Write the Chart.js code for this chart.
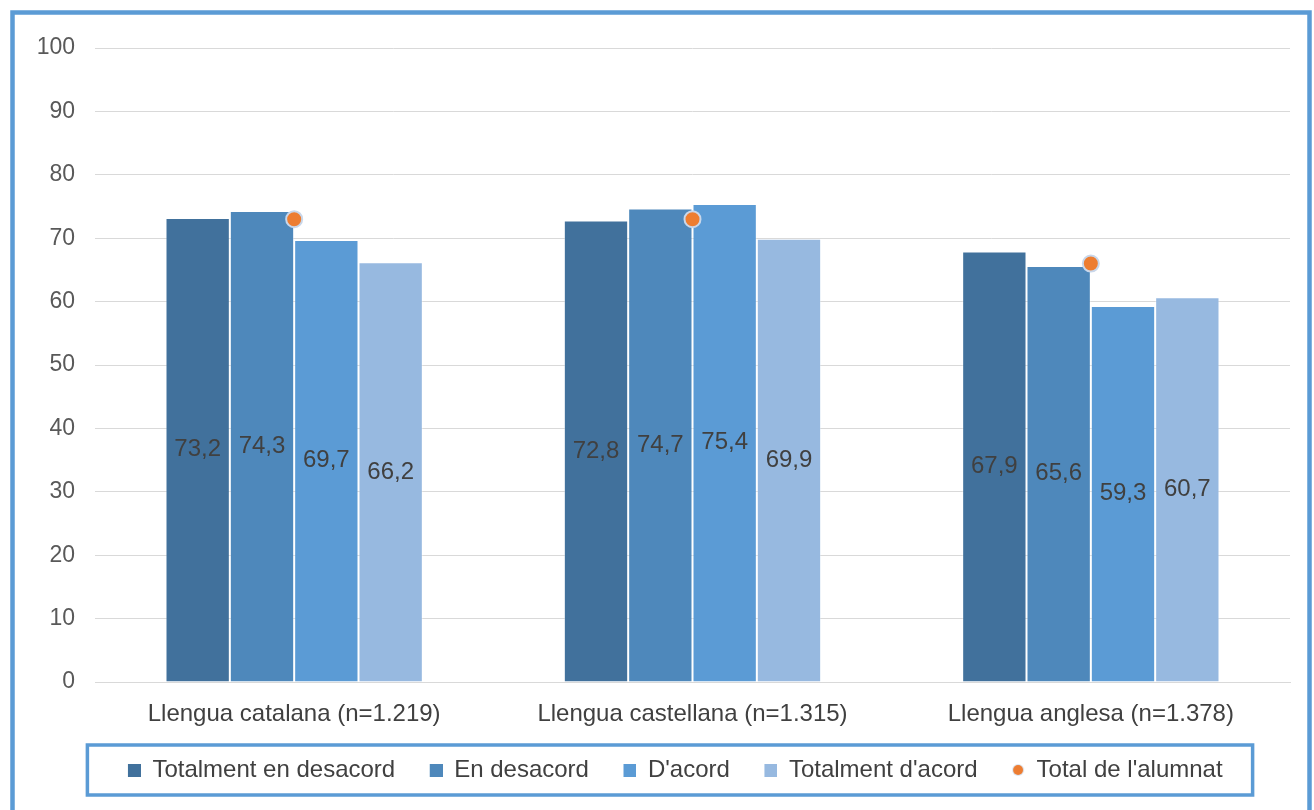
<!DOCTYPE html>
<html>
<head>
<meta charset="utf-8">
<script src="https://cdn.jsdelivr.net/npm/chart.js@4"></script>
<style>
html,body{margin:0;padding:0;background:#fff;}
#wrap{position:relative;width:1314px;height:810px;}
</style>
</head>
<body>
<div id="wrap"><canvas id="c" width="1314" height="810"></canvas></div>
<script>
const categories = ['Llengua catalana (n=1.219)', 'Llengua castellana (n=1.315)', 'Llengua anglesa (n=1.378)'];
const seriesNames = ['Totalment en desacord', 'En desacord', "D'acord", "Totalment d'acord"];
const totalmentDesacord = [73.2, 72.8, 67.9];
const enDesacord = [74.3, 74.7, 65.6];
const dAcord = [69.7, 75.4, 59.3];
const totalmentAcord = [66.2, 69.9, 60.7];
const totalAlumnatName = "Total de l'alumnat";
const totalAlumnat = [73.0, 73.0, 66.0];
const yTicks = [0, 10, 20, 30, 40, 50, 60, 70, 80, 90, 100];

const barColors = ['#41719c', '#4e88bb', '#5b9bd5', '#97b9e0'];
const FONT = "'Liberation Sans', Arial, sans-serif";
const FS = 24;
const TICK_FS = 23;
const LEGEND_PAD = 34;

function makeMarker(kind, color) {
  const cv = document.createElement('canvas');
  cv.width = 14; cv.height = 14;
  const g = cv.getContext('2d');
  if (kind === 'rect') {
    g.fillStyle = color; g.fillRect(1, 1, 13, 13);
  } else {
    g.beginPath(); g.arc(7, 7, 6, 0, Math.PI * 2);
    g.fillStyle = '#dce6f2'; g.fill();
    g.beginPath(); g.arc(7, 7, 5, 0, Math.PI * 2);
    g.fillStyle = color; g.fill();
  }
  return cv;
}

const seriesData = [totalmentDesacord, enDesacord, dAcord, totalmentAcord];
const datasets = seriesData.map((d, i) => ({
  type: 'bar',
  label: seriesNames[i],
  data: d,
  backgroundColor: barColors[i],
  borderColor: 'rgba(255,255,255,0.35)',
  borderWidth: 1,
  order: 1,
  pointStyle: makeMarker('rect', barColors[i])
}));
datasets.push({
  type: 'line',
  label: totalAlumnatName,
  data: totalAlumnat,
  showLine: false,
  pointRadius: 8,
  pointHoverRadius: 8,
  pointBackgroundColor: '#ed7d31',
  pointBorderColor: '#c9d7ea',
  pointBorderWidth: 2,
  order: 0,
  pointStyle: 'circle',
  legendMarker: makeMarker('circle', '#ed7d31')
});

const decor = {
  id: 'decor',
  afterLayout(chart) {
    const lg = chart.legend;
    if (lg) {
      const h = lg.height;
      lg.top = 770 - FS / 2 - LEGEND_PAD;
      lg.bottom = lg.top + h;
      lg.left += 20;
      lg.right += 20;
    }
  },
  beforeDraw(chart) {
    const ctx = chart.ctx;
    ctx.save();
    ctx.strokeStyle = '#5b9bd5';
    ctx.lineWidth = 4.5;
    ctx.strokeRect(12.5, 12.5, 1297, 900);
    ctx.restore();
  },
  afterDraw(chart) {
    const ctx = chart.ctx;
    ctx.save();
    ctx.font = FS + 'px ' + FONT;
    ctx.fillStyle = '#404040';
    ctx.textAlign = 'center';
    ctx.textBaseline = 'middle';
    chart.data.datasets.forEach((ds, di) => {
      if (ds.type !== 'bar') return;
      const meta = chart.getDatasetMeta(di);
      meta.data.forEach((el, i) => {
        const v = ds.data[i];
        ctx.fillText(v.toFixed(1).replace('.', ','), el.x, (el.y + el.base) / 2);
      });
    });
    ctx.restore();
    const lg = chart.legend;
    if (lg && lg.legendHitBoxes && lg.legendHitBoxes.length) {
      const hb = lg.legendHitBoxes;
      let l = Infinity, r = -Infinity, t = Infinity, b = -Infinity;
      hb.forEach(h => { l = Math.min(l, h.left); r = Math.max(r, h.left + h.width); t = Math.min(t, h.top); b = Math.max(b, h.top + h.height); });
      const cy = (t + b) / 2;
      ctx.save();
      ctx.strokeStyle = '#5b9bd5';
      ctx.lineWidth = 3.5;
      ctx.strokeRect(l - 40, cy - 25, (r - l) + 70, 50);
      ctx.restore();
    }
  }
};

new Chart(document.getElementById('c'), {
  data: { labels: categories, datasets: datasets },
  options: {
    responsive: false,
    animation: false,
    events: [],
    layout: { padding: { left: 20, right: 24, top: 48, bottom: 0 } },
    datasets: { bar: { categoryPercentage: 0.646, barPercentage: 1.0 } },
    plugins: {
      tooltip: { enabled: false },
      legend: {
        position: 'bottom',
        labels: {
          usePointStyle: true,
          boxWidth: 13,
          boxHeight: 13,
          padding: LEGEND_PAD,
          color: '#404040',
          font: { family: FONT, size: FS },
          generateLabels(chart) {
            return chart.data.datasets.map((ds, i) => ({
              text: ds.label,
              fillStyle: ds.type === 'bar' ? ds.backgroundColor : '#ed7d31',
              strokeStyle: 'transparent',
              lineWidth: 0,
              pointStyle: ds.type === 'bar' ? ds.pointStyle : ds.legendMarker,
              hidden: false,
              datasetIndex: i,
              fontColor: '#404040'
            }));
          }
        }
      }
    },
    scales: {
      x: {
        grid: { display: false, drawTicks: false },
        border: { display: true, color: '#d9d9d9', width: 1 },
        ticks: { color: '#404040', font: { family: FONT, size: FS }, padding: 18, maxRotation: 0 },
        afterFit(s) { s.height = 60; }
      },
      y: {
        min: 0, max: 100,
        afterBuildTicks(s) { s.ticks = yTicks.map(v => ({ value: v })); },
        grid: { color: '#d9d9d9', lineWidth: 1, drawTicks: false },
        border: { display: false },
        ticks: { color: '#595959', font: { family: FONT, size: TICK_FS }, padding: 20 },
        afterFit(s) { s.width = 75; }
      }
    }
  },
  plugins: [decor]
});
</script>
</body>
</html>
